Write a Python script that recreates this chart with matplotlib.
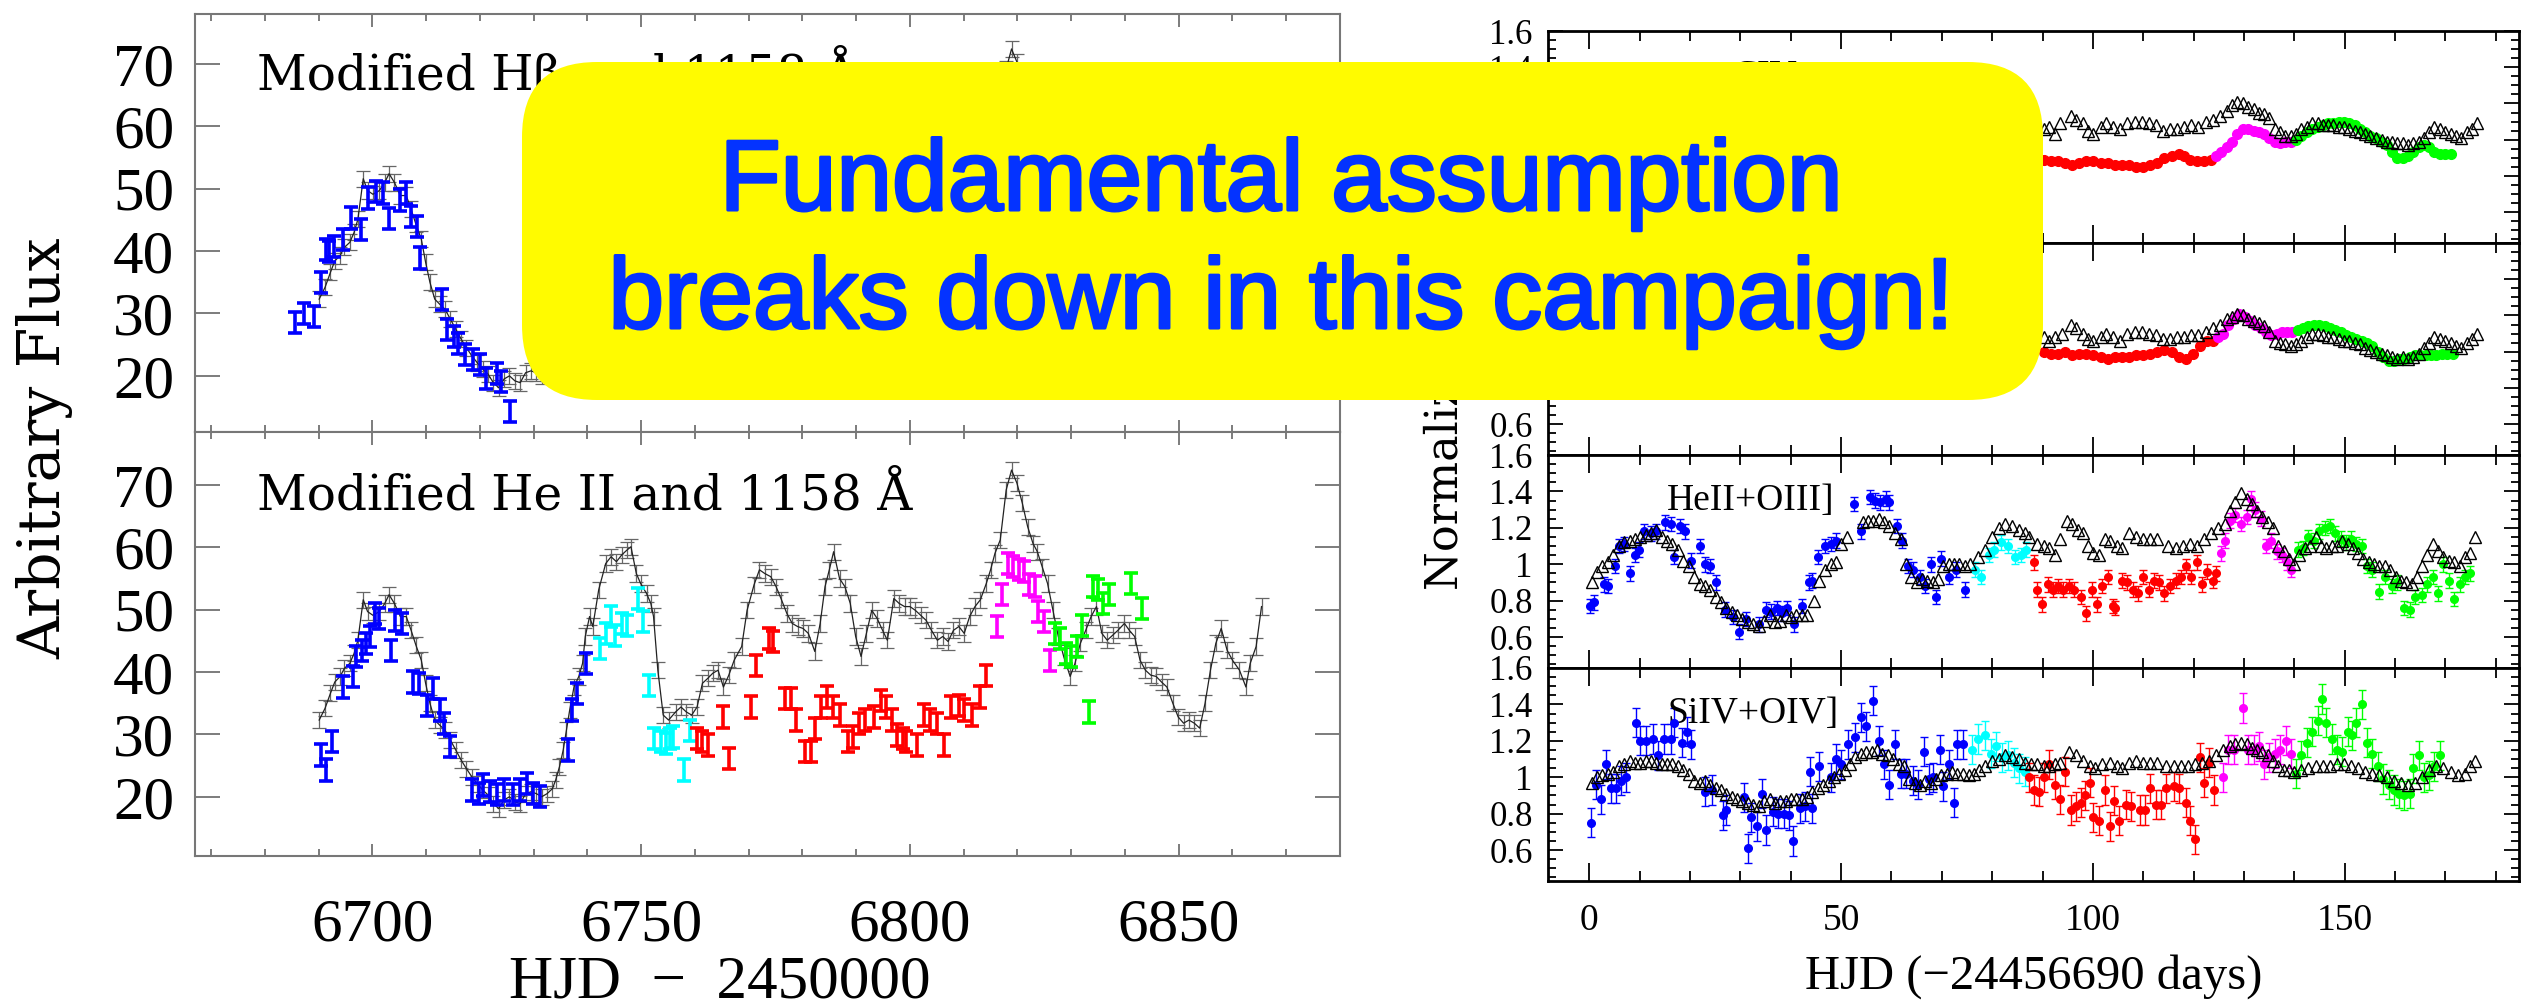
import matplotlib
matplotlib.use("Agg")
import matplotlib.pyplot as plt
import matplotlib.patheffects as pe
import numpy as np
from matplotlib.patches import FancyBboxPatch
from matplotlib.ticker import MultipleLocator, FuncFormatter

plt.rcParams['font.family'] = ['Liberation Serif', 'DejaVu Serif']

# ---------------- left: HJD - 2450000, arbitrary flux ----------------
# 1158 A continuum (grey, connected)
cont = [(6690.1, 32.3), (6691.2, 34.2), (6692.2, 36.6), (6693.0, 38.4), (6694.0, 39.3), (6694.8, 40.6),
        (6695.8, 41.4), (6696.6, 43.0), (6697.3, 45.1), (6698.3, 51.6), (6699.1, 49.7), (6700.1, 49.1),
        (6701.3, 49.7), (6702.3, 51.0), (6703.1, 52.4), (6704.1, 51.0), (6705.2, 48.9), (6706.3, 48.9),
        (6707.2, 46.7), (6708.1, 44.3), (6709.1, 41.9), (6709.9, 38.2), (6710.7, 35.0), (6711.6, 32.3),
        (6712.5, 31.5), (6713.5, 30.7), (6714.5, 29.1), (6715.5, 27.5), (6716.5, 25.9), (6717.5, 24.5),
        (6718.5, 23.2), (6719.5, 22.1), (6720.5, 21.1), (6721.5, 20.3), (6722.5, 18.9), (6723.5, 18.1),
        (6724.5, 19.5), (6725.5, 20.0), (6726.5, 19.2), (6727.5, 18.9), (6728.5, 20.5), (6729.5, 20.8),
        (6730.5, 20.5), (6731.5, 20.0), (6732.5, 20.5), (6733.5, 21.3), (6734.1, 22.7), (6734.8, 24.8),
        (6735.5, 27.5), (6736.1, 30.7), (6736.7, 33.9), (6737.5, 37.6), (6738.4, 39.3), (6739.1, 41.4),
        (6739.6, 45.7), (6740.4, 48.9), (6741.0, 47.3), (6742.1, 53.2), (6743.4, 57.4), (6744.4, 58.5),
        (6745.4, 57.7), (6746.4, 58.8), (6747.4, 59.6), (6748.1, 60.1), (6749.1, 55.8), (6749.9, 54.2),
        (6751.0, 52.6), (6751.8, 51.0), (6752.3, 48.9), (6753.1, 40.3), (6754.1, 33.1), (6755.1, 32.3),
        (6756.4, 33.6), (6757.4, 34.4), (6758.4, 33.6), (6759.4, 33.1), (6760.4, 34.4), (6761.4, 38.2),
        (6762.4, 39.0), (6763.3, 39.8), (6764.3, 40.3), (6765.3, 37.6), (6766.3, 39.5), (6767.3, 41.9),
        (6768.7, 44.1), (6769.7, 49.9), (6771.0, 54.0), (6772.0, 56.4), (6773.0, 55.8), (6774.1, 55.3),
        (6775.1, 53.7), (6776.1, 51.6), (6777.1, 49.4), (6778.1, 47.8), (6779.1, 47.3), (6780.1, 47.0),
        (6781.1, 46.2), (6782.3, 43.3), (6783.3, 47.8), (6784.2, 53.7), (6785.0, 56.4), (6785.8, 59.3),
        (6786.9, 55.0), (6787.9, 53.7), (6788.9, 51.0), (6789.9, 45.7), (6790.9, 42.5), (6791.9, 46.2),
        (6792.9, 49.9), (6793.9, 48.6), (6794.9, 46.7), (6795.8, 45.1), (6797.0, 51.8), (6798.0, 51.0),
        (6799.0, 50.5), (6800.0, 50.5), (6801.0, 49.9), (6802.0, 49.1), (6803.0, 48.3), (6804.0, 46.7),
        (6805.1, 45.1), (6806.1, 45.7), (6807.1, 44.9), (6808.1, 46.7), (6809.1, 47.3), (6810.1, 46.2),
        (6811.1, 48.9), (6812.1, 50.5), (6813.1, 51.6), (6814.2, 54.2), (6815.0, 56.4), (6815.8, 59.0),
        (6816.8, 61.2), (6817.9, 69.2), (6818.9, 72.4), (6819.9, 70.3), (6820.9, 67.1), (6821.9, 63.3),
        (6822.9, 60.6), (6823.7, 59.3), (6824.6, 56.9), (6825.6, 54.2), (6826.6, 49.9), (6827.6, 45.7),
        (6828.6, 42.5), (6829.8, 39.3), (6830.7, 41.4), (6831.7, 44.6), (6832.7, 46.7), (6833.7, 48.9),
        (6834.7, 50.5), (6835.7, 46.2), (6836.7, 45.1), (6837.7, 45.9), (6838.7, 46.7), (6839.9, 47.8),
        (6840.8, 46.7), (6841.8, 45.7), (6842.8, 41.9), (6843.8, 40.3), (6844.8, 39.5), (6845.8, 39.3),
        (6846.8, 38.4), (6847.8, 37.6), (6848.9, 35.0), (6849.9, 32.8), (6850.9, 31.8), (6851.9, 32.3),
        (6852.9, 31.8), (6853.9, 31.0), (6854.9, 35.0), (6855.9, 40.3), (6856.9, 44.6), (6857.9, 47.0),
        (6859.0, 43.5), (6860.0, 41.9), (6861.3, 40.3), (6862.5, 37.6), (6863.3, 41.4), (6864.4, 44.1),
        (6865.4, 50.5)]
cont_err = 1.3

# modified H-beta (top panel)
hb_blue = [(6685.6, 28.5), (6687.3, 30.0), (6689.1, 29.5), (6690.4, 35.0), (6691.3, 40.2), (6692.0, 39.9),
           (6692.8, 40.7), (6694.6, 41.8), (6696.0, 45.3), (6697.8, 43.4), (6699.2, 48.5), (6700.6, 49.5),
           (6702.0, 49.3), (6703.0, 45.2), (6705.2, 48.2), (6706.2, 49.3), (6707.2, 45.5), (6708.3, 43.9),
           (6708.9, 38.9), (6712.9, 32.2), (6713.8, 27.4), (6715.1, 26.3), (6716.0, 25.2), (6717.2, 23.4),
           (6718.8, 22.6), (6720.0, 21.8), (6721.2, 19.6), (6723.1, 20.4), (6724.0, 19.1), (6725.6, 14.3)]

# modified He II (bottom panel)
he_blue = [(6690.5, 26.7), (6691.3, 24.3), (6692.5, 28.8), (6694.5, 37.6), (6696.3, 39.3), (6697.0, 42.5),
           (6698.0, 43.5), (6698.8, 44.6), (6699.5, 45.7), (6700.5, 49.4), (6701.3, 48.6), (6703.5, 43.5),
           (6704.2, 48.3), (6705.6, 47.8), (6707.6, 38.4), (6708.6, 38.2), (6710.2, 34.7), (6711.2, 37.4),
           (6712.5, 33.9), (6713.3, 31.8), (6714.5, 28.0), (6718.5, 21.1), (6719.9, 20.5), (6720.5, 21.9),
           (6721.8, 20.8), (6723.2, 20.3), (6724.5, 21.1), (6726.2, 20.3), (6727.5, 21.1), (6728.8, 22.1),
           (6729.8, 20.5), (6731.1, 20.0), (6736.3, 27.5), (6737.1, 33.9), (6738.1, 36.6), (6739.8, 41.4)]
he_cyan = [(6742.4, 43.8), (6743.4, 46.2), (6744.4, 48.9), (6745.1, 45.9), (6746.4, 47.8), (6747.4, 47.5),
           (6749.4, 51.8), (6750.3, 48.1), (6751.4, 37.9), (6752.4, 29.4), (6753.7, 28.8), (6754.7, 28.6),
           (6755.4, 29.4), (6756.0, 29.6), (6758.0, 24.3), (6759.0, 30.6)]
he_red = [(6760.4, 29.4), (6761.4, 28.8), (6762.4, 28.3), (6765.3, 32.8), (6766.3, 26.1), (6770.4, 34.4),
          (6771.4, 41.1), (6773.7, 45.4), (6774.5, 44.9), (6776.8, 35.8), (6777.8, 35.8), (6778.8, 32.3),
          (6780.5, 27.2), (6781.5, 27.2), (6782.3, 31.0), (6783.5, 34.4), (6784.5, 36.0), (6785.7, 34.4),
          (6786.9, 33.1), (6788.4, 28.8), (6789.4, 29.6), (6790.6, 31.8), (6791.6, 32.3), (6793.3, 32.8),
          (6794.7, 35.5), (6795.6, 34.4), (6796.6, 32.3), (6797.6, 29.9), (6798.7, 29.4), (6799.3, 28.8),
          (6801.3, 28.3), (6802.7, 33.1), (6803.7, 32.3), (6805.1, 31.8), (6806.4, 28.3), (6807.7, 34.4),
          (6809.1, 34.7), (6810.1, 33.9), (6811.5, 33.1), (6813.1, 36.0), (6814.2, 39.5)]
he_magenta = [(6816.2, 47.3), (6817.2, 52.4), (6818.2, 57.4), (6819.2, 56.9), (6820.2, 56.4), (6821.2, 56.1),
              (6822.2, 54.0), (6823.2, 53.7), (6823.9, 49.7), (6824.9, 48.1), (6826.1, 41.9)]
he_green = [(6827.0, 46.2), (6828.0, 45.4), (6829.0, 43.0), (6830.0, 42.5), (6831.0, 44.1), (6832.0, 47.5),
            (6833.4, 33.6), (6834.0, 53.7), (6835.0, 53.2), (6836.0, 51.0), (6837.1, 52.4), (6841.1, 54.2),
            (6843.1, 50.2)]
color_err = 1.7

# ---------------- right: normalised light curves, days since 2456690 ----------------
civ_tri = [(90.3, 1.06), (91.3, 1.07), (92.4, 1.03), (93.4, 1.09), (95.6, 1.13), (96.6, 1.11), (98.0, 1.09),
           (99.1, 1.05), (100.1, 1.03), (101.6, 1.07), (102.6, 1.09), (104.0, 1.07), (105.4, 1.06),
           (106.8, 1.09), (108.3, 1.10), (109.7, 1.10), (111.1, 1.09), (112.5, 1.08), (113.9, 1.05),
           (115.3, 1.06), (116.7, 1.06), (118.1, 1.07), (119.5, 1.08), (120.9, 1.07), (122.4, 1.10),
           (123.8, 1.11), (125.2, 1.13), (126.6, 1.16), (127.6, 1.19), (128.7, 1.21), (129.8, 1.20),
           (130.8, 1.18), (131.9, 1.17), (132.9, 1.15), (134.0, 1.14), (135.0, 1.12), (136.1, 1.06),
           (137.2, 1.04), (138.2, 1.02), (139.3, 1.02), (140.3, 1.03), (141.4, 1.06), (142.5, 1.07),
           (143.5, 1.09), (144.6, 1.09), (145.6, 1.08), (146.7, 1.08), (147.7, 1.08), (148.8, 1.07),
           (149.9, 1.07), (150.9, 1.06), (152.0, 1.05), (153.0, 1.04), (154.1, 1.03), (155.1, 1.02),
           (156.2, 1.01), (157.3, 1.00), (158.3, 0.99), (159.4, 0.99), (160.4, 0.98), (161.5, 0.98),
           (162.6, 0.97), (163.6, 0.98), (164.7, 0.99), (165.7, 1.01), (166.8, 1.04), (167.8, 1.07),
           (168.9, 1.06), (170.0, 1.04), (171.0, 1.03), (172.1, 1.02), (173.1, 1.01), (174.2, 1.04),
           (175.2, 1.06), (176.2, 1.09)]
civ_red = [(90.3, 0.89), (91.7, 0.88), (93.1, 0.88), (94.5, 0.87), (95.9, 0.86), (97.3, 0.87), (98.7, 0.88),
           (100.1, 0.88), (101.6, 0.87), (103.0, 0.87), (104.4, 0.86), (105.8, 0.86), (107.2, 0.86),
           (108.6, 0.85), (110.0, 0.85), (111.4, 0.86), (112.8, 0.87), (114.2, 0.90), (115.7, 0.91),
           (117.1, 0.92), (118.1, 0.91), (119.2, 0.89), (120.6, 0.88), (122.0, 0.88), (123.4, 0.89)]
civ_magenta = [(124.5, 0.91), (125.5, 0.93), (126.6, 0.96), (127.6, 0.99), (128.7, 1.03), (129.8, 1.06),
               (130.8, 1.06), (131.9, 1.05), (132.9, 1.04), (134.0, 1.03), (135.0, 1.01), (136.1, 0.99),
               (137.2, 0.98), (138.2, 0.99), (139.3, 0.99)]
civ_green = [(140.3, 1.00), (141.4, 1.02), (142.5, 1.04), (143.5, 1.06), (144.6, 1.07), (145.6, 1.08),
             (146.7, 1.09), (147.7, 1.09), (148.8, 1.10), (149.9, 1.10), (150.9, 1.09), (152.0, 1.08),
             (153.0, 1.06), (154.1, 1.04), (155.1, 1.02), (156.2, 1.01), (157.3, 0.99), (158.3, 0.97),
             (159.4, 0.93), (160.4, 0.90), (161.5, 0.90), (162.6, 0.91), (163.6, 0.93), (164.7, 0.96),
             (165.7, 0.97), (166.8, 0.96), (167.8, 0.93), (168.9, 0.92), (170.0, 0.92), (171.0, 0.92)]

lya_tri = [(90.3, 1.08), (91.3, 1.06), (92.4, 1.08), (93.8, 1.10), (95.6, 1.15), (96.6, 1.13), (98.0, 1.10),
           (99.1, 1.07), (100.1, 1.06), (101.6, 1.08), (102.6, 1.10), (104.0, 1.08), (105.4, 1.06),
           (106.8, 1.10), (108.3, 1.11), (109.7, 1.11), (111.1, 1.10), (112.5, 1.09), (113.9, 1.07),
           (115.3, 1.07), (116.7, 1.08), (118.1, 1.08), (119.5, 1.09), (120.9, 1.09), (122.4, 1.11),
           (123.8, 1.13), (125.2, 1.15), (126.6, 1.18), (127.6, 1.19), (128.7, 1.21), (129.8, 1.20),
           (130.8, 1.18), (131.9, 1.17), (132.9, 1.16), (134.0, 1.14), (135.0, 1.11), (136.1, 1.06),
           (137.2, 1.05), (138.2, 1.04), (139.3, 1.03), (140.3, 1.04), (141.4, 1.06), (142.5, 1.08),
           (143.5, 1.10), (144.6, 1.10), (145.6, 1.09), (146.7, 1.08), (147.7, 1.08), (148.8, 1.07),
           (149.9, 1.06), (150.9, 1.06), (152.0, 1.05), (153.0, 1.04), (154.1, 1.02), (155.1, 1.01),
           (156.2, 1.00), (157.3, 0.99), (158.3, 0.98), (159.4, 0.97), (160.4, 0.96), (161.5, 0.97),
           (162.6, 0.96), (163.6, 0.97), (164.7, 0.99), (165.7, 1.02), (166.8, 1.05), (167.8, 1.08),
           (168.9, 1.07), (170.0, 1.06), (171.0, 1.05), (172.1, 1.03), (173.1, 1.02), (174.2, 1.05),
           (175.2, 1.07), (176.2, 1.10)]
lya_red = [(90.3, 1.00), (91.7, 0.99), (93.1, 0.99), (94.5, 1.00), (95.9, 0.98), (97.3, 0.99), (98.7, 0.99),
           (100.1, 0.98), (101.6, 0.97), (103.0, 0.96), (104.4, 0.97), (105.8, 0.97), (107.2, 0.97),
           (108.6, 0.98), (110.0, 0.98), (111.4, 0.99), (112.8, 1.00), (114.2, 1.01), (115.7, 1.00),
           (117.1, 0.97), (118.5, 0.96), (119.9, 0.99), (121.3, 1.03), (122.7, 1.06), (123.8, 1.06)]
lya_magenta = [(124.8, 1.08), (125.9, 1.10), (126.9, 1.15), (128.0, 1.18), (129.1, 1.21), (130.1, 1.19),
               (131.2, 1.17), (132.2, 1.15), (133.3, 1.13), (134.3, 1.11), (135.4, 1.09), (136.5, 1.10),
               (137.5, 1.11), (138.6, 1.11), (139.6, 1.11)]
lya_green = [(140.7, 1.12), (141.7, 1.13), (142.8, 1.14), (143.9, 1.15), (144.9, 1.15), (146.0, 1.14),
             (147.0, 1.13), (148.1, 1.12), (149.2, 1.11), (150.2, 1.09), (151.3, 1.08), (152.3, 1.07),
             (153.4, 1.06), (154.4, 1.05), (155.5, 1.03), (156.6, 1.00), (157.6, 0.97), (158.7, 0.95),
             (159.7, 0.95), (160.8, 0.96), (161.8, 0.96), (162.9, 0.97), (164.0, 0.98), (165.0, 0.98),
             (166.1, 0.98), (167.1, 0.98), (168.2, 0.98), (169.3, 0.99), (170.3, 0.99), (171.4, 0.99)]

heii_tri = [(0.5, 0.90), (1.6, 0.96), (2.6, 0.99), (3.7, 1.01), (4.8, 1.05), (5.8, 1.10), (6.9, 1.12),
            (8.0, 1.13), (9.0, 1.14), (10.1, 1.15), (11.2, 1.16), (12.3, 1.17), (13.3, 1.19), (14.4, 1.15),
            (15.5, 1.13), (16.5, 1.11), (17.6, 1.08), (18.7, 1.02), (19.7, 0.99), (20.8, 0.93), (21.9, 0.89),
            (22.9, 0.88), (24.0, 0.86), (25.1, 0.82), (26.1, 0.79), (27.2, 0.76), (28.3, 0.74), (29.3, 0.72),
            (30.4, 0.70), (31.5, 0.68), (32.5, 0.67), (33.6, 0.66), (34.7, 0.69), (35.8, 0.72), (36.8, 0.68),
            (37.9, 0.69), (39.0, 0.72), (40.0, 0.71), (41.1, 0.72), (42.2, 0.72), (43.2, 0.72), (44.7, 0.80),
            (45.7, 0.91), (46.8, 0.97), (47.9, 1.00), (48.9, 1.01), (50.0, 1.11), (51.1, 1.15), (54.3, 1.23),
            (55.3, 1.24), (56.4, 1.24), (57.5, 1.25), (58.5, 1.23), (59.6, 1.21), (60.7, 1.17), (61.8, 1.14),
            (62.8, 1.00), (63.9, 0.93), (65.0, 0.90), (66.0, 0.92), (67.1, 0.91), (68.2, 0.90), (69.2, 0.92),
            (70.3, 0.99), (71.4, 1.00), (72.4, 1.00), (73.5, 1.00), (74.6, 0.99), (75.6, 1.00), (77.1, 1.04),
            (78.5, 1.08), (79.9, 1.15), (81.3, 1.20), (82.6, 1.22), (84.0, 1.21), (85.4, 1.19), (86.6, 1.17),
            (87.4, 1.15), (88.9, 1.11), (90.3, 1.10), (91.3, 1.09), (92.4, 1.05), (93.4, 1.14), (94.9, 1.24),
            (95.9, 1.22), (97.0, 1.19), (98.0, 1.17), (99.1, 1.10), (100.1, 1.06), (101.2, 1.05),
            (102.3, 1.14), (103.3, 1.13), (104.7, 1.10), (105.8, 1.09), (107.2, 1.17), (108.6, 1.15),
            (110.0, 1.14), (111.4, 1.14), (112.8, 1.14), (115.0, 1.10), (116.4, 1.09), (117.8, 1.10),
            (119.2, 1.11), (120.6, 1.10), (122.0, 1.14), (123.4, 1.17), (124.8, 1.20), (126.2, 1.22),
            (127.3, 1.29), (128.3, 1.34), (129.4, 1.39), (130.5, 1.36), (131.5, 1.33), (132.6, 1.29),
            (133.6, 1.26), (134.7, 1.23), (135.8, 1.20), (136.8, 1.10), (137.9, 1.07), (138.9, 1.03),
            (140.0, 1.00), (141.0, 1.05), (142.1, 1.09), (143.2, 1.10), (144.2, 1.15), (145.3, 1.10),
            (146.3, 1.09), (147.4, 1.10), (148.4, 1.10), (149.5, 1.13), (150.6, 1.11), (151.6, 1.09),
            (152.7, 1.06), (153.7, 1.03), (154.8, 1.01), (155.9, 1.00), (156.9, 0.99), (158.0, 0.99),
            (159.0, 0.97), (160.1, 0.93), (161.1, 0.91), (162.2, 0.90), (163.3, 0.89), (164.3, 0.93),
            (165.4, 0.99), (166.4, 1.05), (167.5, 1.11), (168.5, 1.07), (169.6, 1.04), (170.7, 1.02),
            (171.7, 1.01), (172.8, 0.99), (173.8, 1.04), (174.9, 1.06), (175.9, 1.15)]
heii_blue = [(0.1, 0.77), (1.0, 0.79), (3.0, 0.89), (3.7, 0.88), (5.1, 0.99), (5.8, 1.10), (6.9, 1.11),
             (8.0, 0.95), (9.0, 1.05), (9.8, 1.08), (10.8, 1.18), (12.3, 1.17), (13.3, 1.18), (15.1, 1.23),
             (16.2, 1.22), (16.9, 1.04), (18.0, 1.21), (19.0, 1.18), (20.1, 1.02), (21.9, 1.10), (22.9, 1.00),
             (24.0, 0.99), (25.1, 0.90), (26.9, 0.75), (28.6, 0.71), (29.7, 0.63), (31.1, 0.70), (33.6, 0.67),
             (35.0, 0.75), (36.1, 0.74), (37.2, 0.76), (38.3, 0.73), (39.3, 0.76), (40.7, 0.67), (42.2, 0.77),
             (43.6, 0.90), (44.3, 0.91), (45.4, 1.04), (46.8, 1.10), (47.9, 1.11), (48.9, 1.13), (52.5, 1.33),
             (53.9, 1.18), (55.7, 1.37), (56.8, 1.35), (57.8, 1.34), (58.9, 1.36), (59.6, 1.34), (61.0, 1.21),
             (62.1, 1.13), (63.2, 0.99), (64.2, 0.97), (65.7, 0.93), (66.7, 0.88), (67.8, 1.00), (68.9, 0.82),
             (69.9, 1.03), (71.4, 0.93), (72.8, 0.97), (74.6, 0.86)]
heii_cyan = [(76.5, 0.97), (77.8, 0.93), (79.3, 1.05), (80.4, 1.08), (81.8, 1.12), (83.2, 1.10), (84.6, 1.04),
             (85.7, 1.05), (86.7, 1.08)]
heii_red = [(88.2, 1.01), (88.9, 0.86), (89.9, 0.78), (91.0, 0.89), (92.0, 0.86), (93.1, 0.88), (94.1, 0.86),
            (95.2, 0.88), (96.3, 0.86), (97.7, 0.82), (98.7, 0.73), (99.8, 0.86), (100.8, 0.78), (101.9, 0.88),
            (103.0, 0.93), (104.0, 0.77), (104.4, 0.76), (105.8, 0.91), (106.8, 0.90), (107.9, 0.86),
            (108.9, 0.84), (110.0, 0.93), (111.1, 0.86), (112.1, 0.91), (113.2, 0.90), (114.2, 0.84),
            (115.3, 0.88), (116.4, 0.91), (117.4, 0.93), (118.5, 0.99), (119.5, 0.93), (120.6, 1.01),
            (121.7, 0.89), (122.7, 0.96), (123.8, 0.91), (124.5, 0.95)]
heii_magenta = [(125.5, 1.06), (126.2, 1.13), (127.3, 1.24), (128.3, 1.27), (129.4, 1.22), (130.5, 1.26),
                (131.3, 1.36), (132.2, 1.30), (133.3, 1.25), (134.3, 1.10), (135.4, 1.13), (136.5, 1.07),
                (137.5, 1.05), (138.6, 1.01), (139.3, 0.97)]
heii_green = [(140.7, 1.08), (141.7, 1.09), (142.8, 1.15), (143.9, 1.13), (144.9, 1.18), (146.0, 1.20),
              (147.0, 1.21), (148.1, 1.17), (149.2, 1.14), (150.2, 1.12), (151.3, 1.14), (152.3, 1.11),
              (153.4, 1.10), (154.4, 0.99), (155.5, 0.97), (156.9, 0.85), (158.0, 0.93), (159.4, 0.88),
              (160.4, 0.90), (161.8, 0.76), (162.9, 0.75), (164.0, 0.82), (165.4, 0.83), (166.4, 0.89),
              (167.5, 0.93), (168.5, 0.84), (169.6, 1.00), (170.7, 0.91), (171.7, 0.81), (172.8, 0.89),
              (173.8, 0.93), (174.9, 0.95)]

siiv_tri = [(0.5, 0.97), (1.6, 1.00), (2.6, 1.01), (3.7, 1.02), (4.8, 1.03), (5.8, 1.06), (6.9, 1.07),
            (8.0, 1.09), (9.0, 1.08), (10.1, 1.08), (11.2, 1.09), (12.3, 1.09), (13.3, 1.08), (14.4, 1.07),
            (15.5, 1.07), (16.5, 1.07), (17.6, 1.06), (18.7, 1.04), (19.7, 1.02), (20.8, 0.98), (21.9, 0.97),
            (22.9, 0.98), (24.0, 0.96), (25.1, 0.94), (26.1, 0.93), (27.2, 0.91), (28.3, 0.89), (29.3, 0.88),
            (30.4, 0.87), (31.5, 0.86), (32.5, 0.85), (33.6, 0.84), (34.7, 0.87), (35.8, 0.88), (36.8, 0.86),
            (37.9, 0.87), (39.0, 0.87), (40.0, 0.88), (41.1, 0.88), (42.2, 0.88), (43.2, 0.89), (44.3, 0.92),
            (45.4, 0.94), (46.4, 0.96), (47.5, 0.98), (48.6, 1.00), (49.6, 1.02), (50.7, 1.04), (51.8, 1.07),
            (52.8, 1.11), (53.9, 1.13), (55.0, 1.14), (56.1, 1.14), (57.1, 1.15), (58.2, 1.13), (59.3, 1.12),
            (60.3, 1.10), (61.4, 1.07), (62.5, 1.06), (63.5, 0.99), (64.6, 0.97), (65.7, 0.96), (66.7, 0.98),
            (67.8, 0.97), (68.9, 0.99), (69.9, 1.01), (71.0, 1.02), (72.1, 1.03), (73.1, 1.02), (74.2, 1.02),
            (75.3, 1.01), (76.4, 1.02), (77.4, 1.04), (78.5, 1.06), (79.9, 1.09), (81.3, 1.10), (82.6, 1.12),
            (84.0, 1.11), (85.3, 1.10), (86.6, 1.08), (87.8, 1.07), (88.9, 1.07), (90.3, 1.06), (91.3, 1.06),
            (92.4, 1.07), (93.4, 1.08), (95.2, 1.14), (96.6, 1.12), (98.0, 1.09), (99.4, 1.06), (100.5, 1.05),
            (101.9, 1.07), (103.3, 1.08), (104.7, 1.06), (105.8, 1.05), (107.2, 1.08), (108.6, 1.09),
            (110.0, 1.08), (111.4, 1.08), (112.8, 1.08), (114.6, 1.06), (116.0, 1.06), (117.4, 1.06),
            (118.8, 1.06), (120.2, 1.07), (121.6, 1.08), (123.1, 1.09), (124.5, 1.12), (125.9, 1.15),
            (127.3, 1.17), (128.3, 1.18), (129.4, 1.19), (130.5, 1.18), (131.5, 1.16), (132.6, 1.15),
            (133.6, 1.14), (134.7, 1.12), (135.8, 1.09), (136.8, 1.06), (137.9, 1.04), (138.9, 1.04),
            (140.0, 1.03), (141.4, 1.04), (142.8, 1.05), (144.2, 1.06), (145.6, 1.06), (147.0, 1.06),
            (148.4, 1.07), (149.9, 1.07), (151.3, 1.06), (152.7, 1.05), (154.1, 1.03), (155.5, 1.02),
            (156.9, 1.01), (158.3, 1.00), (159.7, 0.98), (161.1, 0.97), (162.6, 0.96), (164.0, 0.97),
            (165.4, 1.00), (166.8, 1.04), (168.2, 1.06), (169.6, 1.05), (171.0, 1.03), (172.4, 1.01),
            (173.8, 1.02), (174.9, 1.06), (175.9, 1.09)]
siiv_blue = [(0.3, 0.75), (1.4, 0.96), (2.4, 0.88), (3.3, 1.07), (4.3, 0.94), (5.3, 0.94), (6.2, 0.98),
             (7.3, 1.00), (9.2, 1.30), (10.1, 1.20), (11.2, 1.20), (12.6, 1.21), (13.7, 1.12), (14.8, 1.21),
             (16.2, 1.21), (16.9, 1.30), (18.4, 1.19), (19.4, 1.25), (20.1, 1.18), (22.9, 0.92), (24.4, 0.93),
             (26.5, 0.79), (27.2, 0.82), (30.8, 0.89), (31.5, 0.61), (32.2, 0.78), (33.3, 0.73), (34.3, 0.91),
             (35.0, 0.71), (36.5, 0.81), (37.5, 0.80), (38.6, 0.80), (39.7, 0.79), (40.4, 0.65), (41.8, 0.83),
             (42.9, 0.84), (43.9, 1.03), (44.3, 0.83), (45.7, 1.06), (47.9, 1.00), (48.9, 1.10), (50.0, 1.07),
             (51.4, 1.18), (52.8, 1.22), (53.9, 1.33), (55.0, 1.28), (56.4, 1.42), (57.5, 1.20), (58.5, 1.07),
             (59.6, 0.96), (60.7, 1.18), (61.8, 1.02), (62.8, 1.02), (64.2, 0.98), (65.3, 0.96), (66.4, 1.14),
             (67.5, 0.99), (68.2, 1.00), (69.6, 1.15), (70.3, 0.95), (71.4, 1.07), (72.4, 0.86), (73.1, 1.18),
             (74.2, 1.18)]
siiv_cyan = [(76.0, 1.15), (77.1, 1.21), (78.6, 1.23), (79.7, 1.13), (80.8, 1.17), (82.0, 1.11), (83.2, 1.12),
             (84.3, 1.08), (85.4, 1.05), (86.5, 1.03)]
siiv_red = [(87.4, 1.00), (88.2, 0.93), (89.2, 0.92), (90.3, 1.00), (91.3, 1.07), (92.4, 0.96), (93.4, 0.88),
            (94.5, 1.03), (95.6, 0.82), (96.6, 0.84), (97.7, 0.86), (98.4, 0.90), (99.4, 0.97), (100.1, 0.78),
            (101.2, 0.76), (102.3, 0.93), (103.3, 0.73), (104.2, 0.87), (105.1, 0.76), (106.5, 0.85),
            (107.5, 0.84), (109.3, 0.82), (110.4, 0.82), (111.4, 0.94), (112.5, 0.85), (113.5, 0.85),
            (114.6, 0.94), (116.0, 0.95), (117.1, 0.94), (118.5, 0.86), (119.2, 0.76), (120.2, 0.66),
            (121.3, 1.11), (122.0, 0.97), (123.1, 1.08), (124.0, 0.93)]
siiv_magenta = [(125.9, 1.00), (126.9, 1.15), (128.0, 1.15), (129.8, 1.38), (130.8, 1.15), (131.9, 1.15),
                (133.0, 1.17), (134.0, 1.07), (135.0, 1.11), (136.2, 1.13), (137.2, 1.15), (138.3, 1.20),
                (139.3, 1.13)]
siiv_green = [(140.3, 1.02), (141.4, 1.12), (142.5, 1.19), (143.5, 1.25), (144.6, 1.31), (145.4, 1.43),
              (146.3, 1.30), (147.4, 1.21), (148.4, 1.15), (149.5, 1.14), (150.6, 1.25), (151.5, 1.23),
              (152.3, 1.30), (153.4, 1.40), (154.4, 1.19), (155.5, 1.13), (156.6, 1.06), (157.6, 0.99),
              (158.7, 0.96), (159.7, 0.93), (160.8, 0.91), (161.8, 0.90), (162.9, 0.91), (163.6, 1.05),
              (164.7, 1.12), (165.7, 1.00), (166.8, 1.01), (167.8, 1.06), (168.9, 1.12)]

BLUE, CYAN, RED, MAGENTA, GREEN = '#0000ff', '#00ffff', '#ff0000', '#ff00ff', '#00ff00'

W, H = 2536, 1008
fig = plt.figure(figsize=(W / 100, H / 100), dpi=100)


def px_axes(l, t, r, b):
    # axes placed by pixel edges (top-left origin)
    return fig.add_axes([l / W, 1 - b / H, (r - l) / W, (b - t) / H])


def xy(pairs):
    a = np.array(pairs, dtype=float)
    return a[:, 0], a[:, 1]


# ---------------- left panels ----------------
axL1 = px_axes(195, 14, 1340, 432)
axL2 = px_axes(195, 432, 1340, 856)
for ax, ylim in ((axL1, (11.0, 78.0)), (axL2, (10.5, 78.5))):
    ax.set_xlim(6667, 6880)
    ax.set_ylim(*ylim)
    ax.xaxis.set_major_locator(MultipleLocator(50))
    ax.xaxis.set_minor_locator(MultipleLocator(10))
    ax.yaxis.set_major_locator(MultipleLocator(10))
    ax.tick_params(which='both', direction='in', top=True, right=True, color='#666666', width=1.2)
    ax.tick_params(axis='y', which='major', length=18, labelsize=44, pad=15)
    ax.tick_params(axis='x', which='major', length=9, labelsize=44, pad=30)
    ax.tick_params(axis='x', which='minor', length=5)
    for s in ax.spines.values():
        s.set_color('#777777')
        s.set_linewidth(1.5)
    t, f = xy(cont)
    ax.errorbar(t, f, yerr=cont_err, fmt='-', color='#222222', lw=0.9, ecolor='#666666',
                elinewidth=0.9, capsize=5, capthick=0.9, zorder=2)
axL1.tick_params(labelbottom=False)


def bars(ax, pairs, c):
    t, f = xy(pairs)
    ax.errorbar(t, f, yerr=color_err, fmt='none', ecolor=c, elinewidth=2.6,
                capsize=5, capthick=2.6, zorder=3)


bars(axL1, hb_blue, BLUE)
for pairs, c in ((he_blue, BLUE), (he_cyan, CYAN), (he_red, RED), (he_magenta, MAGENTA), (he_green, GREEN)):
    bars(axL2, pairs, c)

fig.text(257 / W, 1 - 90 / H, 'Modified Hβ and 1158 Å', family=['DejaVu Serif'], fontsize=35,
         va='baseline', ha='left')
fig.text(257 / W, 1 - 510 / H, 'Modified He II and 1158 Å', family=['DejaVu Serif'], fontsize=35,
         va='baseline', ha='left')
fig.text(45 / W, 1 - 448 / H, 'Arbitrary Flux', family=['DejaVu Serif'], fontsize=42,
         rotation=90, ha='center', va='center')
fig.text(720 / W, 1 - 983 / H, 'HJD  −  2450000', fontsize=44, ha='center', va='center')

# ---------------- right panels ----------------
edges = [31, 243, 455, 668, 881]
axR = [px_axes(1548, edges[i], 2519, edges[i + 1]) for i in range(4)]
for ax in axR:
    ax.set_xlim(-8.2, 184.6)
    ax.set_ylim(0.43, 1.6)
    ax.xaxis.set_major_locator(MultipleLocator(50))
    ax.xaxis.set_minor_locator(MultipleLocator(10))
    ax.yaxis.set_major_locator(MultipleLocator(0.2))
    ax.yaxis.set_minor_locator(MultipleLocator(0.05))
    ax.yaxis.set_major_formatter(FuncFormatter(lambda v, p: f'{v:g}'))
    ax.tick_params(which='both', direction='in', top=True, right=True, color='black', width=1.3)
    ax.tick_params(axis='x', which='major', length=13, labelsize=27, pad=16, labelbottom=False)
    ax.tick_params(axis='x', which='minor', length=7)
    ax.tick_params(axis='y', which='major', length=11, labelsize=25, pad=11)
    ax.tick_params(axis='y', which='minor', length=6)
    for s in ax.spines.values():
        s.set_color('black')
        s.set_linewidth(2.0)
axR[3].tick_params(axis='x', labelbottom=True)

panels = [
    (axR[0], civ_tri, [(civ_red, RED), (civ_magenta, MAGENTA), (civ_green, GREEN)], 0.0, 'CIV', 1732),
    (axR[1], lya_tri, [(lya_red, RED), (lya_magenta, MAGENTA), (lya_green, GREEN)], 0.0, 'Lyα', 1667),
    (axR[2], heii_tri, [(heii_blue, BLUE), (heii_cyan, CYAN), (heii_red, RED), (heii_magenta, MAGENTA),
                        (heii_green, GREEN)], 0.04, 'HeII+OIII]', 1667),
    (axR[3], siiv_tri, [(siiv_blue, BLUE), (siiv_cyan, CYAN), (siiv_red, RED), (siiv_magenta, MAGENTA),
                        (siiv_green, GREEN)], 0.08, 'SiIV+OIV]', 1667),
]
for ax, tri, series, err, label, lx in panels:
    for pairs, c in series:
        t, f = xy(pairs)
        if err > 0:
            ax.errorbar(t, f, yerr=err, fmt='o', color=c, ms=5.5, mec=c, elinewidth=1.0,
                        capsize=3, capthick=1.0, zorder=3)
        else:
            ax.plot(t, f, 'o', color=c, ms=7, mec=c, zorder=3)
    t, f = xy(tri)
    ax.plot(t, f, '^', mfc='none', mec='black', ms=8, mew=1.0, zorder=4)
    ax.text((lx - 1548) / (2519 - 1548), 1 - 55 / 212, label, transform=ax.transAxes,
            fontsize=27, ha='left', va='baseline')

fig.text(2034 / W, 1 - 977 / H, 'HJD (−24456690 days)', fontsize=35, ha='center', va='center')
fig.text(1445 / W, 1 - 590 / H, 'Normalized Flux', family=['DejaVu Serif'], fontsize=32,
         rotation=90, ha='center', va='bottom')

# ---------------- call-out box ----------------
box = FancyBboxPatch((522 / 100, (H - 400) / 100), (2043 - 522) / 100, (400 - 62) / 100,
                     boxstyle='round,pad=0,rounding_size=0.75', transform=fig.dpi_scale_trans,
                     fc='#fffb00', ec='none', zorder=10)
fig.add_artist(box)
# regular face with a thin same-colour outline, a touch heavier than plain regular
medium = [pe.withStroke(linewidth=2.2, foreground='#0433ff')]
for line, base in (('Fundamental assumption', 210), ('breaks down in this campaign!', 328)):
    fig.text(1281 / W, 1 - base / H, line, family=['Liberation Sans', 'DejaVu Sans'],
             fontsize=72, color='#0433ff', ha='center', va='baseline', zorder=11,
             path_effects=medium)

fig.savefig('out.png', dpi=100)
